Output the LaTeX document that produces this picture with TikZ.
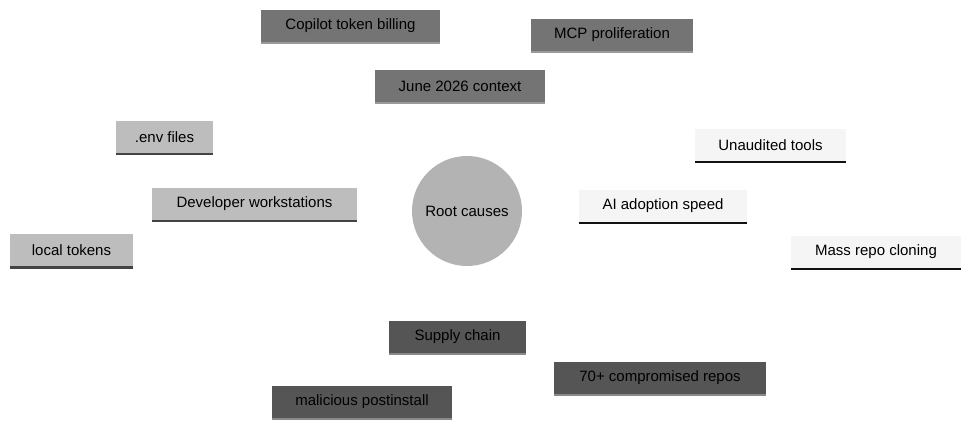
\documentclass[tikz,border=0pt]{standalone}
\usepackage{fontspec}
\setmainfont{Liberation Sans}
\usetikzlibrary{backgrounds}
\definecolor{ca}{HTML}{747474}\definecolor{cal}{HTML}{5E5E5E}\definecolor{cab}{HTML}{9A9A9A}
\definecolor{cb}{HTML}{BDBDBD}\definecolor{cbl}{HTML}{C2C2C2}\definecolor{cbb}{HTML}{444444}
\definecolor{cc}{HTML}{F5F5F5}\definecolor{ccl}{HTML}{EEEEEE}\definecolor{ccb}{HTML}{111111}
\definecolor{cd}{HTML}{555555}\definecolor{cdl}{HTML}{4E4E4E}\definecolor{cdb}{HTML}{8A8A8A}
\definecolor{root}{HTML}{B3B3B3}
\begin{document}
\begin{tikzpicture}[x=1pt,y=-1pt,
 box/.style={draw=none,rectangle,minimum height=32pt,inner xsep=0pt,font=\fontsize{15}{18}\selectfont},
 l1/.style={line width=10pt},l2/.style={line width=6pt}]
\useasboundingbox[fill=white] (0,0) rectangle (971,430);
\node[circle,fill=root,minimum size=110pt,font=\fontsize{15}{18}\selectfont] (r) at (467,211) {Root causes};
\node[box,fill=ca,minimum width=170pt] (a) at (460,86) {June 2026 context};
\node[box,fill=ca,minimum width=179pt] (a1) at (350.5,26) {Copilot token billing};
\node[box,fill=ca,minimum width=162pt] (a2) at (612,35) {MCP proliferation};
\node[box,fill=cb,minimum width=205pt] (b) at (254.5,204) {Developer workstations};
\node[box,fill=cb,minimum width=97pt] (b1) at (164.5,137) {.env files};
\node[box,fill=cb,minimum width=123pt] (b2) at (71.5,250.5) {local tokens};
\node[box,fill=cc,minimum width=168pt] (c) at (663,206) {AI adoption speed};
\node[box,fill=cc,minimum width=151pt] (c1) at (770.5,145) {Unaudited tools};
\node[box,fill=cc,minimum width=170pt] (c2) at (876,252) {Mass repo cloning};
\node[box,fill=cd,minimum width=137pt] (d) at (457.5,337) {Supply chain};
\node[box,fill=cd,minimum width=212pt] (d1) at (660,378) {70+ compromised repos};
\node[box,fill=cd,minimum width=180pt] (d2) at (362,402) {malicious postinstall};
\foreach \n/\c in {a/cab,a1/cab,a2/cab,b/cbb,b1/cbb,b2/cbb,c/ccb,c1/ccb,c2/ccb,d/cdb,d1/cdb,d2/cdb}
  \draw[\c,line width=2.5pt] ([yshift=-1pt]\n.south west)--([yshift=-1pt]\n.south east);
\begin{scope}[on background layer]
\draw[l1,cal] (r.center)--(a.center); \draw[l2,cal] (a.center)--(a1.center); \draw[l2,cal] (a.center)--(a2.center);
\draw[l1,cbl] (r.center)--(b.center); \draw[l2,cbl] (b.center)--(b1.center); \draw[l2,cbl] (b.center)--(b2.center);
\draw[l1,ccl] (r.center)--(c.center); \draw[l2,ccl] (c.center)--(c1.center); \draw[l2,ccl] (c.center)--(c2.center);
\draw[l1,cdl] (r.center)--(d.center); \draw[l2,cdl] (d.center)--(d1.center); \draw[l2,cdl] (d.center)--(d2.center);
\end{scope}
\end{tikzpicture}
\end{document}
